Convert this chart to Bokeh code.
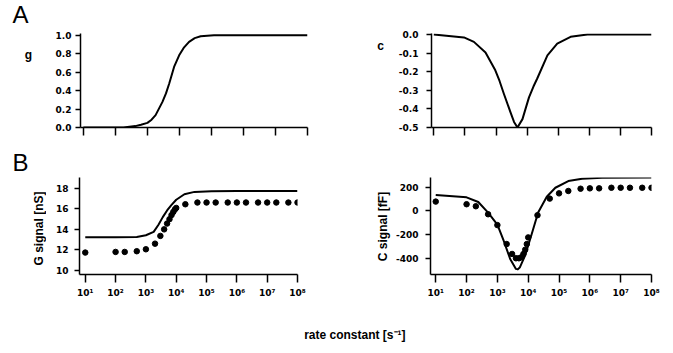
import math
from bokeh.plotting import figure
from bokeh.models import Range1d, FixedTicker, NumeralTickFormatter
from bokeh.core.properties import value
from bokeh.layouts import column, row
from bokeh.embed import file_html
from bokeh.resources import INLINE

# ---------------- data ----------------
# Panel A left: g versus rate constant
rate_g = [1e1, 1e2, 1.8e2, 4.2e2, 6.3e2, 1.0e3, 1.35e3, 1.8e3, 2.95e3, 3.8e3, 4.8e3,
          6.8e3, 9.8e3, 1.4e4, 2.0e4, 3.0e4, 4.6e4, 1.2e5, 1e6, 1e7, 1e8]
g_vals = [0.0, 0.0, 0.0, 0.015, 0.03, 0.05, 0.085, 0.134, 0.278, 0.37, 0.477,
          0.657, 0.783, 0.87, 0.93, 0.97, 0.99, 1.0, 1.0, 1.0, 1.0]

# Panel A right: c versus rate constant
rate_c = [1e1, 9.3e1, 1.95e2, 4.6e2, 9.5e2, 1.3e3, 1.8e3, 2.95e3, 3.8e3, 4.9e3, 7.1e3,
          8.9e3, 1.15e4, 1.6e4, 2.1e4, 4.5e4, 9.3e4, 2.5e5, 8.7e5, 1e7, 1e8]
c_vals = [0.0, -0.016, -0.04, -0.097, -0.193, -0.25, -0.32, -0.42, -0.47, -0.5, -0.455,
          -0.40, -0.338, -0.28, -0.238, -0.112, -0.049, -0.013, 0.0, 0.0, 0.0]

# Panel B left: G signal [nS]
rate_G_fit = [1e1, 1e2, 5e2, 1e3, 1.8e3, 2.6e3, 3.6e3, 5e3, 6.9e3, 1e4, 1.86e4,
              4e4, 1.45e5, 1e6, 1e7, 1e8]
G_fit = [13.22, 13.22, 13.25, 13.42, 13.75, 14.45, 15.2, 15.85, 16.37, 16.9, 17.44,
         17.67, 17.74, 17.76, 17.76, 17.76]

rate_data = [1e1, 1e2, 2e2, 5e2, 1e3, 2e3, 3e3, 4e3, 5e3, 6e3, 7e3, 8e3, 9e3, 1e4,
             2e4, 5e4, 1e5, 2e5, 5e5, 1e6, 2e6, 5e6, 1e7, 2e7, 5e7, 1e8]
G_data = [11.73, 11.79, 11.79, 11.86, 12.05, 12.6, 13.36, 14.0, 14.57, 15.0, 15.4,
          15.7, 15.94, 16.1, 16.46, 16.63, 16.63, 16.63, 16.63, 16.63, 16.63, 16.63,
          16.63, 16.63, 16.63, 16.63]

# Panel B right: C signal [fF]
rate_C_fit = [1e1, 1e2, 2.4e2, 5e2, 1e3, 1.6e3, 2.6e3, 4e3, 4.6e3, 5.4e3, 7.9e3,
              1.3e4, 2.1e4, 4e4, 7.6e4, 2e5, 5.6e5, 2.5e6, 1e8]
C_fit = [133, 114, 75, -15, -115, -250, -403, -486, -490, -472, -375,
         -194, -14, 119, 194, 250, 269, 278, 279]
C_data = [78, 56, 39, -28, -119, -278, -361, -397, -397, -389, -361, -325, -278,
          -222, -36, 103, 147, 167, 186, 189, 189, 194, 194, 194, 194, 194]

decades = [10, 100, 1000, 10000, 100000, 1000000, 10000000, 100000000]
decade_labels = ["10¹", "10²", "10³", "10⁴", "10⁵", "10⁶", "10⁷", "10⁸"]

g_ticks = [0.0, 0.2, 0.4, 0.6, 0.8, 1.0]
c_ticks = [-0.5, -0.4, -0.3, -0.2, -0.1, 0.0]
G_ticks = [10, 12, 14, 16, 18]
C_ticks = [-400, -200, 0, 200]

panel_labels = ["A", "B"]
top_ylabels = ["g", "c"]
bottom_ylabels = ["G signal [nS]", "C signal [fF]"]
xlabel = "rate constant  [s⁻¹]"

# ---------------- styling / layout ----------------
FONT = "Liberation Sans"
TICK_FONT = "DejaVu Sans"

TOP_H, ROW1_H, MID_H, ROW2_H, BOT_H = 28, 112, 36, 134, 43
ROW1_Y0 = TOP_H                      # 28
ROW2_Y0 = TOP_H + ROW1_H + MID_H     # 176
ROW1_TOP, ROW1_BOT = 5, 13           # frame 33..127
ROW2_TOP, ROW2_BOT = 1, 36           # frame 177..274


def make_fig(w, h, xr, yr, left, right, top, bottom, show_xlabels, yticks, yfmt, ystand):
    p = figure(width=w, height=h, x_axis_type="log",
               x_range=Range1d(*xr), y_range=Range1d(*yr),
               output_backend="svg", toolbar_location=None,
               min_border_left=left, min_border_right=right,
               min_border_top=top, min_border_bottom=bottom)
    p.outline_line_color = None
    p.grid.visible = False
    p.background_fill_color = "white"
    p.border_fill_color = "white"
    for ax in (p.xaxis[0], p.yaxis[0]):
        ax.axis_line_width = 1.5
        ax.axis_line_color = "black"
        ax.major_tick_line_width = 1.5
        ax.major_tick_line_color = "black"
        ax.minor_tick_line_color = None
        ax.major_tick_in = 0
        ax.major_label_text_font = TICK_FONT
        ax.major_label_text_font_style = "bold"
        ax.major_label_text_font_size = "9px"
        ax.major_label_text_color = "black"
    xa = p.xaxis[0]
    xa.ticker = FixedTicker(ticks=decades, minor_ticks=[])
    xa.major_tick_out = 8
    if show_xlabels:
        xa.major_label_overrides = dict(zip(decades, decade_labels))
        xa.major_label_standoff = 5
    else:
        xa.major_label_overrides = {d: "" for d in decades}
        xa.major_label_text_font_size = "0px"
        xa.major_label_standoff = 0
    ya = p.yaxis[0]
    ya.ticker = FixedTicker(ticks=yticks, minor_ticks=[])
    ya.formatter = NumeralTickFormatter(format=yfmt)
    ya.major_tick_out = 5
    ya.major_label_standoff = ystand
    return p


def blank_fig(w, h, top=0, bottom=0, y0=0):
    """Blank figure; its data y equals minus the page pixel row, x equals the local pixel column."""
    fb = y0 + h - bottom          # frame bottom (page px)
    ft = y0 + top                 # frame top (page px)
    m = figure(width=w, height=h, x_range=Range1d(0, w), y_range=Range1d(-fb, -ft),
               output_backend="svg", toolbar_location=None,
               x_axis_location=None, y_axis_location=None,
               min_border_left=0, min_border_right=0,
               min_border_top=top, min_border_bottom=bottom)
    m.outline_line_color = None
    m.grid.visible = False
    m.background_fill_color = "white"
    m.border_fill_color = "white"
    return m


def add_text(m, x, page_y, text, size, style="bold", align="center", angle=0.0):
    m.text(x=[x], y=[-page_y], text=[text], angle=angle,
           text_font=value(FONT), text_font_size=value(size),
           text_font_style=value(style), text_color="black",
           text_align=value(align), text_baseline=value("middle"))


# ---- strip with "A" ----
sA = blank_fig(673, TOP_H, y0=0)
add_text(sA, 12, 14.2, panel_labels[0], "24px", style="normal", align="left")

# ---- Row 1 ----
mA = blank_fig(46, ROW1_H, ROW1_TOP, ROW1_BOT, ROW1_Y0)
add_text(mA, 28, 54, top_ylabels[0], "12px")

p1 = make_fig(290, ROW1_H, (10 ** 0.91, 1e8), (0.0, 1.02), 34, 29, ROW1_TOP, ROW1_BOT,
              False, g_ticks, "0.0", 4)
p1.line(rate_g, g_vals, line_width=2, color="black", line_join="round")

mC = blank_fig(50, ROW1_H, ROW1_TOP, ROW1_BOT, ROW1_Y0)
add_text(mC, 44, 45, top_ylabels[1], "12px")

p2 = make_fig(287, ROW1_H, (10 ** 0.926, 1e8), (-0.5, 0.005), 45, 22, ROW1_TOP, ROW1_BOT,
              False, c_ticks, "0.0", 8)
p2.line(rate_c, c_vals, line_width=2, color="black", line_join="round")

# ---- strip with "B" ----
sB = blank_fig(673, MID_H, y0=TOP_H + ROW1_H)
add_text(sB, 12, 161.5, panel_labels[1], "24px", style="normal", align="left")

# ---- Row 2 ----
mB = blank_fig(46, ROW2_H, ROW2_TOP, ROW2_BOT, ROW2_Y0)
add_text(mB, 38, 228, bottom_ylabels[0], "12px", angle=math.pi / 2)

p3 = make_fig(290, ROW2_H, (10 ** 0.81, 1e8), (9.58, 19.08), 33, 39, ROW2_TOP, ROW2_BOT,
              True, G_ticks, "0", 6)
p3.line(rate_G_fit, G_fit, line_width=2, color="black", line_join="round")
p3.scatter(rate_data, G_data, size=5.5, color="black")

mD = blank_fig(55, ROW2_H, ROW2_TOP, ROW2_BOT, ROW2_Y0)
add_text(mD, 46, 226, bottom_ylabels[1], "12px", angle=math.pi / 2)

p4 = make_fig(282, ROW2_H, (10 ** 0.83, 1e8), (-533, 280), 39, 22, ROW2_TOP, ROW2_BOT,
              True, C_ticks, "0", 7)
p4.line(rate_C_fit, C_fit, line_width=2, color="black", line_join="round")
p4.scatter(rate_data, C_data, size=5.5, color="black")

# ---- shared x-axis title ----
p5 = blank_fig(673, BOT_H, y0=ROW2_Y0 + ROW2_H)
add_text(p5, 356, 334, xlabel, "12px")

layout = column(sA, row(mA, p1, mC, p2), sB, row(mB, p3, mD, p4), p5)

open("out.html", "w").write(file_html(layout, INLINE))
